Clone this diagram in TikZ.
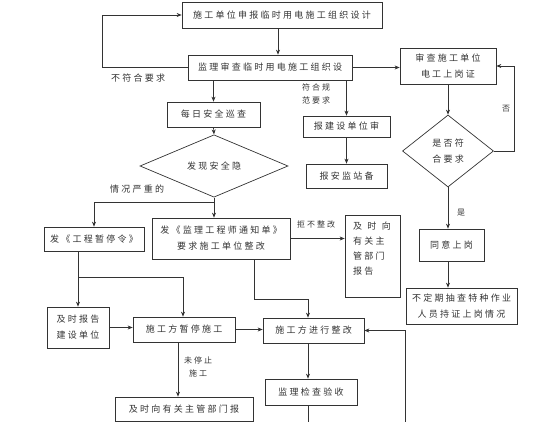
\documentclass[tikz,border=0pt]{standalone}
\usepackage{fontspec}
\setmainfont[LetterSpace=25]{Noto Sans CJK SC}
\newfontfamily\widefont[LetterSpace=60]{Noto Sans CJK SC}
\usetikzlibrary{shapes.geometric,arrows.meta}

\tikzset{
  box/.style={draw, rectangle, inner sep=0pt, align=center, font=\fontsize{9}{16}\selectfont},
  choice/.style={draw, diamond, inner sep=0pt, align=center, font=\fontsize{9}{16}\selectfont},
  note/.style={inner sep=0pt, align=center, font=\fontsize{8}{13}\selectfont},
  bignote/.style={inner sep=0pt, font=\fontsize{9}{12}\selectfont},
}

\begin{document}
\begin{tikzpicture}[x=1pt,y=-1pt,>={Stealth[length=5pt,width=4pt]},line width=0.7pt,draw=black!80,text=black!80]
\useasboundingbox (0,0) rectangle (560,422);

\node[box, minimum width=200, minimum height=26] (b1) at (282,15) {施工单位申报临时用电施工组织设计};
\node[box, minimum width=164, minimum height=25] (b2) at (270,67.5) {监理审查临时用电施工组织设};
\node[box, minimum width=93, minimum height=25] (b3) at (213.5,114.5) {每日安全巡查};
\node[choice, minimum width=148, minimum height=44] (d1) at (214,166) {发现安全隐};
\node[box, minimum width=138, minimum height=41] (n1) at (221,238.5) {发《监理工程师通知单》\\要求施工单位整改};
\node[box, minimum width=100, minimum height=24] (s1) at (94,239) {发《工程暂停令》};
\node[box, minimum width=62, minimum height=41] (a1) at (78,327.5) {及时报告\\建设单位};
\node[box, minimum width=102, minimum height=25] (p1) at (184,329.5) {施工方暂停施工};
\node[box, minimum width=101, minimum height=25] (p2) at (313.5,330.5) {施工方进行整改};
\node[box, minimum width=138, minimum height=24] (q1) at (184,409) {及时向有关主管部门报};
\node[box, minimum width=92, minimum height=26] (m1) at (311,392) {监理检查验收};
\node[box, minimum width=87, minimum height=21] (c1) at (346.5,126.5) {报建设单位审};
\node[box, minimum width=81, minimum height=24] (c2) at (346.5,176) {报安监站备};
\node[box, minimum width=55, minimum height=82] (g1) at (372.5,256) {};
\node[anchor=north west, inner sep=0pt, align=left, font=\fontsize{9}{15}\selectfont] (g1t) at ([shift={(8,7)}]g1.north west) {\widefont 及时向\\有关主\\管部门\\报告};
\node[box, minimum width=96, minimum height=36] (r1) at (448,66) {审查施工单位\\电工上岗证};
\node[choice, minimum width=91, minimum height=72] (d2) at (448,151) {是否符\\合要求};
\node[box, minimum width=65, minimum height=32] (r2) at (451.5,245) {同意上岗};
\node[box, minimum width=111, minimum height=36] (r3) at (461.5,306) {不定期抽查特种作业\\人员持证上岗情况};

% labels on the lines
\node[bignote] (l1) at (138,78) {不符合要求};
\node[note, align=left] (l2) at (316,94) {符合规\\范要求};
\node[bignote] (l3) at (137,189) {情况严重的};
\node[note] (l4) at (316,224) {拒不整改};
\node[note] (l5) at (506,109) {否};
\node[note] (l6) at (461,213) {是};
\node[note] (l7) at (198,367) {未停止\\施工};

\coordinate (split1) at (214,202);
\coordinate (split2) at (78,277);
\coordinate (cut1) at (308,422);
\coordinate (cut2) at (405,422);

\draw[->] ([xshift=-4]b1.south) -- ([xshift=-4]b1.south |- b2.north);
\draw[->] (b2.west) -- ++(-85,0) |- (b1.west);
\draw[->] (b2.east) -- (b2.east -| r1.west);
\draw[->] (b2.south -| c1.north) -- (c1.north);
\draw[->] (c1.south) -- (c2.north);
\draw[->] (b2.south -| b3.north) -- (b3.north);
\draw[->] (b3.south) -- (d1.north);
\draw[->] (d1.south) -- (d1.south |- n1.north);
\draw[->] (split1) -| (s1.north);
\draw[->] (n1.east) -- (n1.east -| g1.west);
\draw[->] (s1.south -| a1.north) -- (a1.north);
\draw[->] (split2) -| ([xshift=-1]p1.north);
\draw[->] (a1.east) -- (a1.east -| p1.west);
\draw[->] (p1.east) -- (p1.east -| p2.west);
\draw[->] ([xshift=33]n1.south) -- ++(0,40) -| ([xshift=-5.5]p2.north);
\draw[->] ([xshift=-6]p1.south) -- ([xshift=-6]p1.south |- q1.north);
\draw[->] ([xshift=-5.5]p2.south) -- ([xshift=-5.5]p2.south |- m1.north);
\draw ([xshift=-3]m1.south) -- (cut1);
\draw[->] (cut2) |- (p2.east);

\draw[->] (r1.south) -- (d2.north);
\draw[->] (d2.east) -- ++(20,0) |- (r1.east);
\draw[->] (d2.south) -- (d2.south |- r2.north);
\draw[->] (d2.south |- r2.south) -- (d2.south |- r3.north);
\end{tikzpicture}
\end{document}
